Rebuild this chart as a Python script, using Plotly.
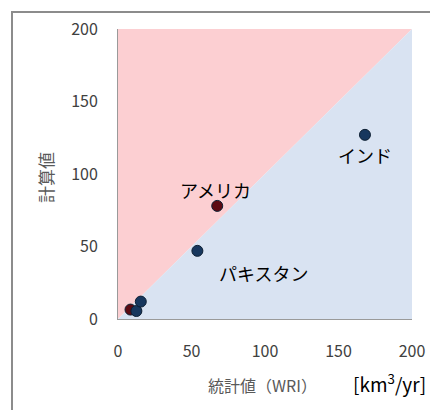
import plotly.graph_objects as go

# Data
names = ["インド", "アメリカ", "パキスタン", "", "", ""]
wri = [168, 67.5, 54, 8.5, 12.5, 15.5]
calc = [127, 78, 47, 6.5, 5.5, 12]
groups = ["under", "over", "under", "over", "under", "under"]

label_text = ["アメリカ", "インド", "パキスタン"]
label_x = [66, 168, 99]
label_y = [89, 113, 32]

ax_min, ax_max = 0, 200
tick_vals = [0, 50, 100, 150, 200]

W, H = 430, 410
L, R, T, B = 118, 412, 29, 319
PW, PH = R - L, B - T

fig = go.Figure()

# background regions
fig.add_trace(go.Scatter(x=[ax_min, ax_min, ax_max, ax_min], y=[ax_min, ax_max, ax_max, ax_min],
                         fill="toself", mode="none", fillcolor="#fccfd2", hoverinfo="skip",
                         showlegend=False))
fig.add_trace(go.Scatter(x=[ax_min, ax_max, ax_max, ax_min], y=[ax_min, ax_max, ax_min, ax_min],
                         fill="toself", mode="none", fillcolor="#d9e3f2", hoverinfo="skip",
                         showlegend=False))

col = {"under": "#17375e", "over": "#5c0a12"}
for g in ["over", "under"]:
    xs = [x for x, gg in zip(wri, groups) if gg == g]
    ys = [y for y, gg in zip(calc, groups) if gg == g]
    fig.add_trace(go.Scatter(x=xs, y=ys, mode="markers",
                             marker=dict(size=11, color=col[g], line=dict(color="#0d1f33", width=1)),
                             showlegend=False))

for t, x, y in zip(label_text, label_x, label_y):
    fig.add_annotation(x=x, y=y, text=t, showarrow=False, xref="x", yref="y",
                       font=dict(size=18, color="#000000", family="Noto Sans CJK JP"))


def px(xp):
    return (xp - L) / PW


def py(yp):
    return (B - yp) / PH


fig.add_annotation(x=px(262), y=py(385), xref="paper", yref="paper",
                   xanchor="center", yanchor="middle",
                   text="統計値（WRI）", showarrow=False,
                   font=dict(size=16, color="#595959", family="Noto Sans CJK JP"))
fig.add_annotation(x=px(428), y=py(383), xref="paper", yref="paper",
                   xanchor="right", yanchor="middle",
                   text="[km<sup>3</sup>/yr]", showarrow=False,
                   font=dict(size=19, color="#000000", family="Noto Sans CJK JP"))
fig.add_annotation(x=px(45), y=py(178), xref="paper", yref="paper",
                   xanchor="center", yanchor="middle",
                   text="計算値", showarrow=False, textangle=-90,
                   font=dict(size=17, color="#595959", family="Noto Sans CJK JP"))

# outer frame
fig.add_shape(type="rect", xref="paper", yref="paper",
              x0=px(12), x1=px(445),
              y0=py(425), y1=py(12),
              line=dict(color="#8c8c8c", width=2), fillcolor="rgba(0,0,0,0)", layer="below")

axis_common = dict(range=[ax_min, ax_max], tickvals=tick_vals, showgrid=False, zeroline=False,
                   ticks="", tickfont=dict(size=16, color="#404040", family="Noto Sans CJK JP"),
                   showline=True, linecolor="#9a9a9a", linewidth=1, automargin=False)

fig.update_xaxes(**axis_common, ticklabelstandoff=18)
fig.update_yaxes(**axis_common, ticklabelstandoff=16)

fig.update_layout(width=W, height=H, margin=dict(l=L, r=W - R, t=T, b=H - B),
                  plot_bgcolor="white", paper_bgcolor="white")

fig.write_html("out.html", config={"displayModeBar": False},
               post_script="document.body.style.margin='0';document.body.style.overflow='hidden';")
